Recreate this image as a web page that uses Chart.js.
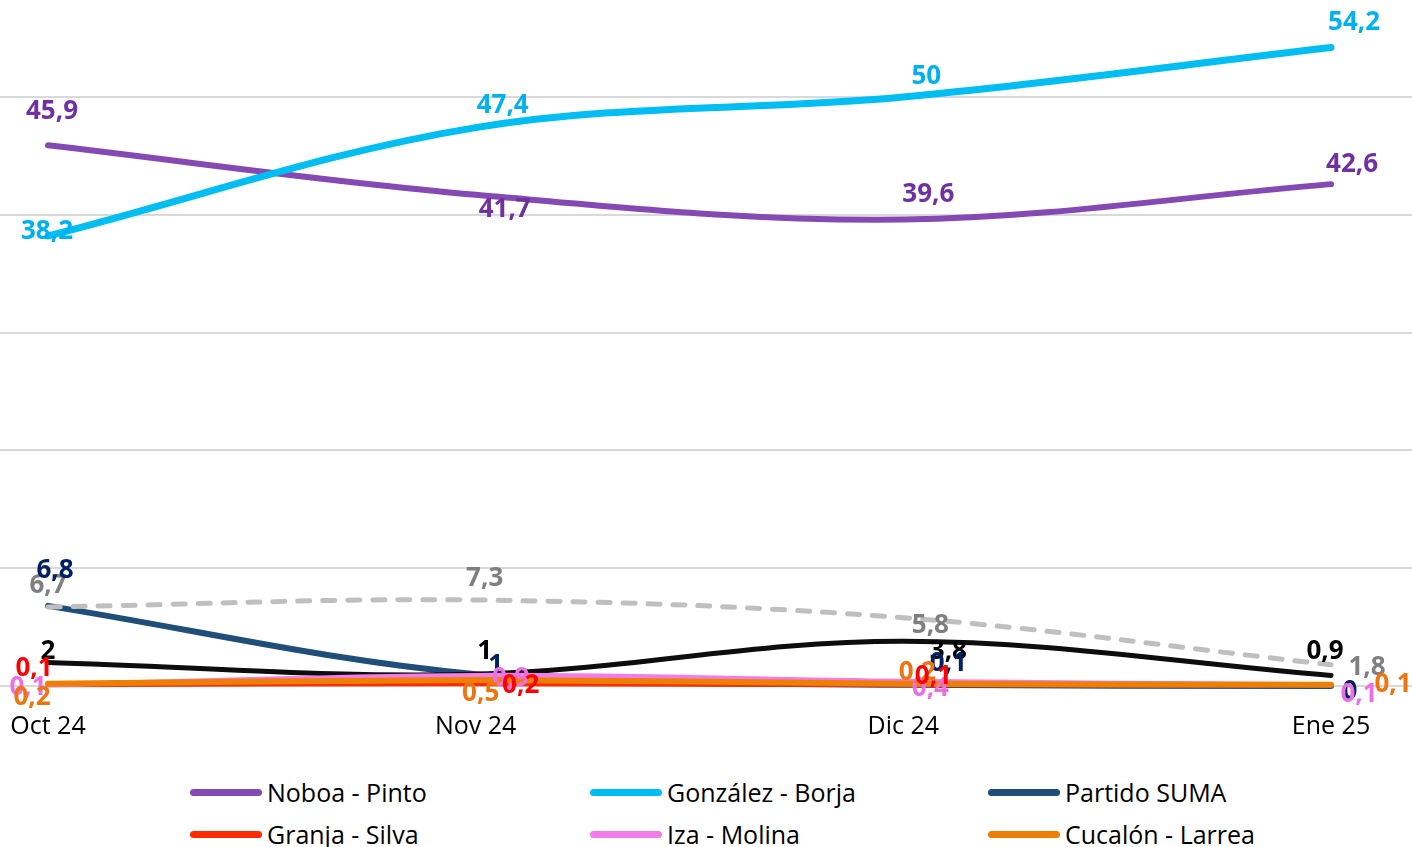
<!DOCTYPE html>
<html lang="es">
<head>
<meta charset="UTF-8">
<title>Intención de voto</title>
<script src="https://cdn.jsdelivr.net/npm/chart.js"></script>
<style>
    body { margin: 0; overflow: hidden; background: #fff; font-family: "Open Sans", sans-serif; }
    .wrap { position: relative; width: 1412px; height: 847px; }
    .chart-box { position: absolute; left: 0; top: 0; }
    .legend {
        position: absolute;
        left: 190px;
        top: 771px;
        display: grid;
        grid-template-columns: 400px 398px 400px;
        grid-auto-rows: 42px;
    }
    .legend-item { display: flex; align-items: center; font-size: 25px; color: #000; white-space: nowrap; }
    .legend-item .swatch { width: 72px; height: 7px; border-radius: 4px; margin-right: 5px; }
</style>
</head>
<body>
<div class="wrap">
    <div class="chart-box"><canvas id="votos" width="1412" height="739"></canvas></div>
    <div class="legend" id="legend"></div>
</div>
<script>
    const months = ['Oct 24', 'Nov 24', 'Dic 24', 'Ene 25'];
    const noboa = [45.9, 41.7, 39.6, 42.6];
    const gonzalez = [38.2, 47.4, 50, 54.2];
    const suma = [6.8, 1, 0.1, 0];
    const granja = [0.1, 0.2, 0.1, 0.1];
    const iza = [0.1, 0.9, 0.4, 0.1];
    const cucalon = [0.2, 0.5, 0.2, 0.1];
    const otros = [6.7, 7.3, 5.8, 1.8];
    const nulos = [2, 1, 3.8, 0.9];

    // styling + where each value label sits relative to its point (px)
    const series = [
        { label: 'Noboa - Pinto', data: noboa, line: '#8549B3', text: '#7030A0', width: 6, order: 4,
          offsets: [[4, -34], [29, 15], [25, -25], [21, -20]] },
        { label: 'González - Borja', data: gonzalez, line: '#00BEF2', text: '#00B0F0', width: 7, order: 3,
          offsets: [[-1, -4], [27, -22], [23, -20], [23, -25]] },
        { label: 'Partido SUMA', data: suma, line: '#1F4E79', text: '#002060', width: 6, order: 7,
          offsets: [[7, -35], [20, -9], [45, -21], [19, 6]] },
        { label: 'Granja - Silva', data: granja, line: '#FF2A00', text: '#FF0000', width: 5, order: 2,
          offsets: [[-14, -16], [45, 2], [30, -8], null] },
        { label: 'Iza - Molina', data: iza, line: '#F07DEA', text: '#EE6FE4', width: 5, order: 1,
          offsets: [[-20, 3], [35, 3], [27, 7], [28, 10]] },
        { label: 'Cucalón - Larrea', data: cucalon, line: '#EE7F06', text: '#EE7410', width: 6, order: 0,
          offsets: [[-16, 14], [5, 13], [14, -11], [62, 0]] },
        { label: 'Otros', data: otros, line: '#BFBFBF', text: '#7F7F7F', width: 5, order: 5, dash: [12, 13],
          offsets: [[0, -21], [9, -21], [27, 8], [36, 3]] },
        { label: 'Nulo / Blanco', data: nulos, line: '#0D0D0D', text: '#000000', width: 5, order: 6,
          offsets: [[0, -11], [9, -23], [45, 10], [-6, -24]] }
    ];
    const labelOrder = [6, 7, 0, 1, 2, 4, 5, 3];

    const pointLabels = {
        id: 'pointLabels',
        afterDatasetsDraw(chart) {
            const ctx = chart.ctx;
            ctx.save();
            ctx.font = 'bold 26px "Open Sans"';
            ctx.textAlign = 'center';
            ctx.textBaseline = 'middle';
            labelOrder.forEach(idx => {
                const s = series[idx];
                chart.getDatasetMeta(idx).data.forEach((pt, i) => {
                    const off = s.offsets[i];
                    if (!off) return;
                    ctx.fillStyle = s.text;
                    ctx.fillText(String(s.data[i]).replace('.', ','), pt.x + off[0], pt.y + off[1]);
                });
            });
            ctx.restore();
        }
    };

    new Chart(document.getElementById('votos'), {
        type: 'line',
        data: {
            datasets: series.map(s => ({
                label: s.label,
                data: s.data.map((v, i) => ({ x: i, y: v })),
                borderColor: s.line,
                backgroundColor: s.line,
                borderWidth: s.width,
                borderDash: s.dash || [],
                borderCapStyle: 'round',
                borderJoinStyle: 'round',
                tension: 0.35,
                pointRadius: 0,
                order: s.order,
                clip: 12
            }))
        },
        options: {
            responsive: false,
            animation: false,
            devicePixelRatio: 1,
            layout: { padding: 0 },
            plugins: { legend: { display: false }, tooltip: { enabled: false } },
            scales: {
                x: {
                    type: 'linear',
                    min: -0.1122,
                    max: 3.1893,
                    grid: { display: false, drawTicks: false },
                    border: { display: false },
                    afterBuildTicks: scale => { scale.ticks = months.map((m, i) => ({ value: i })); },
                    afterFit: scale => {
                        scale.height = 53;
                        scale.paddingLeft = 0;
                        scale.paddingRight = 0;
                    },
                    ticks: {
                        autoSkip: false,
                        maxRotation: 0,
                        padding: 26,
                        color: '#000',
                        font: { family: 'Open Sans', size: 25 },
                        callback: v => months[v]
                    }
                },
                y: {
                    min: 0,
                    max: 58.23,
                    grid: { color: '#D9D9D9', lineWidth: 2, drawTicks: false },
                    border: { display: false },
                    afterBuildTicks: scale => { scale.ticks = scale.ticks.filter(t => t.value % 10 === 0); },
                    afterFit: scale => { scale.width = 0; },
                    ticks: { display: false, stepSize: 10 }
                }
            }
        },
        plugins: [pointLabels]
    });

    const legend = document.getElementById('legend');
    series.forEach(s => {
        const item = document.createElement('div');
        item.className = 'legend-item';
        item.innerHTML = '<span class="swatch" style="background:' + s.line + '"></span>' + s.label;
        legend.appendChild(item);
    });
</script>
</body>
</html>
